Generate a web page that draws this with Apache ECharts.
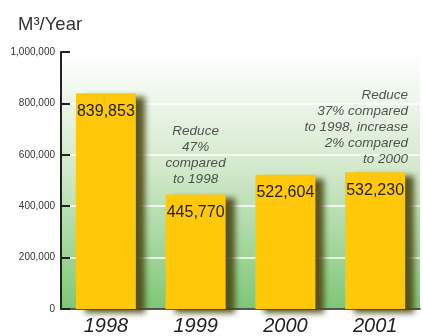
<!DOCTYPE html>
<html><head><meta charset="utf-8">
<script src="https://cdn.jsdelivr.net/npm/echarts@6/dist/echarts.min.js"></script>
<style>html,body{margin:0;padding:0;background:#fff}#c{width:423px;height:336px}</style>
</head><body><div id="c"></div>
<script>
const categories = ['1998', '1999', '2000', '2001'];
const values = [839853, 445770, 522604, 532230];
const yTicks = [0, 200000, 400000, 600000, 800000, 1000000];
const notes = [
  null,
  'Reduce\n47%\ncompared\nto 1998',
  null,
  'Reduce\n37% compared\nto 1998, increase\n2% compared\nto 2000'
];
const unitTitle = 'M³/Year';

const fmt = v => v.toString().replace(/\B(?=(\d{3})+(?!\d))/g, ',');
const chart = echarts.init(document.getElementById('c'), null, {renderer: 'canvas'});
const sans = '"Liberation Sans", Arial, sans-serif';

chart.setOption({
  animation: false,
  title: {
    text: unitTitle, left: 13, top: 10,
    textStyle: {fontFamily: sans, fontSize: 18.5, fontWeight: 'normal', color: '#333'}
  },
  grid: {
    left: 61, right: 3, top: 52, bottom: 26, show: true, borderWidth: 0,
    backgroundColor: new echarts.graphic.LinearGradient(0, 0, 0, 1, [
      {offset: 0, color: '#ffffff'},
      {offset: 0.45, color: '#d3e9cc'},
      {offset: 1, color: '#7ec777'}
    ])
  },
  xAxis: {
    type: 'category', data: categories,
    axisLine: {lineStyle: {color: '#222', width: 1.5}},
    axisTick: {inside: true, length: 5, lineStyle: {color: '#222', width: 1.5}},
    axisLabel: {fontFamily: sans, fontStyle: 'italic', fontSize: 20, color: '#222', margin: 7}
  },
  yAxis: {
    type: 'value', min: 0, max: 1000000, interval: 200000,
    axisLine: {show: true, lineStyle: {color: '#222', width: 2}},
    axisTick: {show: true, inside: true, length: 9, lineStyle: {color: '#222', width: 2}},
    axisLabel: {
      fontFamily: sans, fontSize: 10, color: '#333', margin: 6,
      formatter: v => yTicks.includes(v) ? fmt(v) : ''
    },
    splitLine: {show: true, lineStyle: {color: '#ffffff', width: 1.5}}
  },
  series: [
    {
      type: 'bar', data: values, barWidth: 60,
      itemStyle: {
        color: '#ffc90a',
        shadowColor: 'rgba(75,70,15,0.9)', shadowBlur: 6, shadowOffsetX: 9, shadowOffsetY: 4
      },
      label: {
        show: true, position: 'insideTop', distance: 8,
        formatter: p => fmt(p.value),
        fontFamily: sans, fontSize: 16, lineHeight: 20, color: '#222'
      }
    },
    {
      type: 'scatter', symbolSize: 0, silent: true,
      data: values.map((v, i) => ({
        value: [i, v],
        label: !notes[i] ? {show: false}
          : i === 3 ? {align: 'right', offset: [33, 0], distance: 5}
          : {align: 'center', distance: 7}
      })),
      label: {
        show: true, position: 'top',
        formatter: p => notes[p.dataIndex] || '',
        fontFamily: sans, fontStyle: 'italic', fontSize: 13.5,
        lineHeight: 16, color: '#2a2a2a'
      }
    }
  ]
});
</script></body></html>
